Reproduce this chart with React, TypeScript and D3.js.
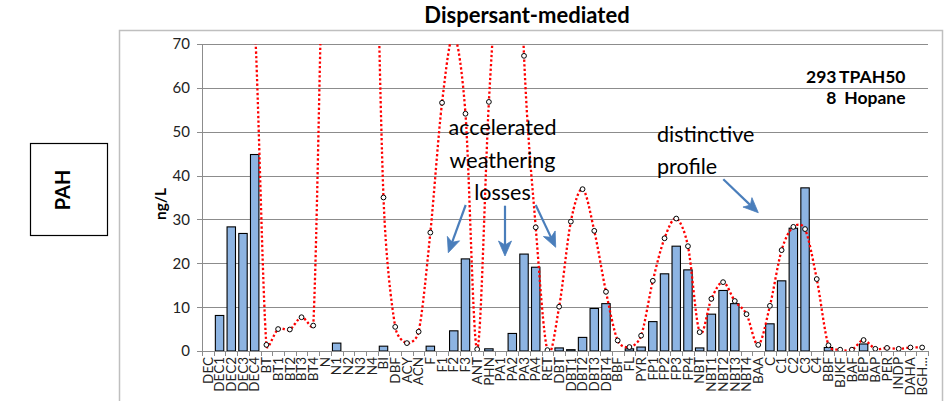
import React from "react";
import * as d3 from "d3";

const categories = [
  "DEC", "DEC1", "DEC2", "DEC3", "DEC4", "BT", "BT1", "BT2", "BT3", "BT4",
  "N", "N1", "N2", "N3", "N4", "BI", "DBF", "ACY", "ACN", "F",
  "F1", "F2", "F3", "ANT", "PHN", "PA1", "PA2", "PA3", "PA4", "RET",
  "DBT", "DBT1", "DBT2", "DBT3", "DBT4", "BBF", "FL", "PYR", "FP1", "FP2",
  "FP3", "FP4", "NBT", "NBT1", "NBT2", "NBT3", "NBT4", "BAA", "C", "C1",
  "C2", "C3", "C4", "BBF", "BJKF", "BAF", "BEP", "BAP", "PER", "INDP",
  "DAHA", "BGH...",
];

// measured sample (bars), ng/L
const measuredValues = [
  0, 8.1, 28.3, 26.8, 44.8, 0, 0, 0, 0, 0,
  0, 1.8, 0, 0, 0, 1.1, 0, 0, 0, 1.1,
  0, 4.6, 21.0, 0, 0.5, 0, 4.0, 22.1, 19.1, 0,
  0.7, 0.3, 3.1, 9.7, 10.8, 0, 0.5, 0.9, 6.7, 17.6,
  23.9, 18.5, 0.7, 8.4, 13.8, 10.8, 0, 0, 6.2, 16.0,
  28.0, 37.2, 0, 0.8, 0, 0, 1.6, 0, 0, 0,
  0, 0,
];

// source-oil profile (dotted line with markers), ng/L; values above 70 run off the axis
const profileValues = [
  90, 110, 100, 100, 75, 1.4, 5.0, 4.9, 7.7, 5.8,
  110, 130, 180, 170, 140, 35.0, 5.5, 1.8, 4.4, 27.0,
  56.6, 72, 54.1, 0.4, 56.8, 100, 150, 67.3, 28.2, 0.2,
  10.1, 29.5, 36.9, 27.4, 13.5, 2.4, 0.9, 3.5, 16.0, 25.7,
  30.2, 23.9, 4.3, 11.9, 15.7, 11.4, 8.4, 1.4, 10.3, 23.0,
  28.3, 27.8, 16.4, 1.3, 0.3, 0.3, 2.5, 0.5, 0.7, 0.5,
  0.8, 0.8,
];

const yTickValues = [0, 10, 20, 30, 40, 50, 60, 70];
const chartTitle = "Dispersant-mediated";
const yAxisTitle = "ng/L";
const sideLabel = "PAH";
const totalValues = ["293", "8"];
const totalLabels = ["TPAH50", "Hopane"];
const noteLeft = ["accelerated", "weathering", "losses"];
const noteRight = ["distinctive", "profile"];

// Excel-style smoothed line: Bezier with 1/6 tangents, arm length clamped to half the segment
class ExcelSmoothCurve {
  _context: any;
  _pts: number[][] = [];
  constructor(context: any) {
    this._context = context;
  }
  areaStart() {}
  areaEnd() {}
  lineStart() {
    this._pts = [];
  }
  point(x: number, y: number) {
    this._pts.push([+x, +y]);
  }
  lineEnd() {
    const p = this._pts;
    const c = this._context;
    if (!p.length) return;
    const dist = (a: number[], b: number[]) => Math.hypot(a[0] - b[0], a[1] - b[1]);
    c.moveTo(p[0][0], p[0][1]);
    for (let i = 0; i < p.length - 1; i++) {
      const p0 = p[i - 1] || p[i];
      const p1 = p[i];
      const p2 = p[i + 1];
      const p3 = p[i + 2] || p[i + 1];
      const d12 = dist(p1, p2);
      const d02 = dist(p0, p2);
      const d13 = dist(p1, p3);
      let f1 = 1 / 6;
      let f2 = 1 / 6;
      if (d02 > 0 && d02 * f1 > d12 / 2) f1 = d12 / (2 * d02);
      if (d13 > 0 && d13 * f2 > d12 / 2) f2 = d12 / (2 * d13);
      c.bezierCurveTo(
        p1[0] + (p2[0] - p0[0]) * f1,
        p1[1] + (p2[1] - p0[1]) * f1,
        p2[0] - (p3[0] - p1[0]) * f2,
        p2[1] - (p3[1] - p1[1]) * f2,
        p2[0],
        p2[1]
      );
    }
  }
}

const FONT = "Lato, 'Open Sans', sans-serif";
const ARROW = "#4a7ebb";

function Arrow({ x1, y1, x2, y2 }: { x1: number; y1: number; x2: number; y2: number }) {
  const len = Math.hypot(x2 - x1, y2 - y1);
  const ux = (x2 - x1) / len;
  const uy = (y2 - y1) / len;
  const headL = 15;
  const headW = 6.5;
  const bx = x2 - ux * headL;
  const by = y2 - uy * headL;
  const nx = -uy;
  const ny = ux;
  const notchX = x2 - ux * (headL - 4);
  const notchY = y2 - uy * (headL - 4);
  const head = `M${x2},${y2} L${bx + nx * headW},${by + ny * headW} L${notchX},${notchY} L${bx - nx * headW},${by - ny * headW} Z`;
  return (
    <g>
      <line x1={x1} y1={y1} x2={notchX} y2={notchY} stroke={ARROW} strokeWidth={2.2} />
      <path d={head} fill={ARROW} stroke={ARROW} strokeWidth={0.8} strokeLinejoin="miter" />
    </g>
  );
}

export default function App() {
  const W = 951;
  const H = 401;
  const left = 202;
  const right = 928;
  const top = 44;
  const bottom = 351;

  const idx = categories.map((_, i) => i);
  const x = d3
    .scaleBand<number>()
    .domain(idx)
    .range([left, right])
    .paddingInner(0.28)
    .paddingOuter(0.14);
  const y = d3.scaleLinear().domain([0, 70]).range([bottom, top]);
  const cx = (i: number) => (x(i) as number) + x.bandwidth() / 2;

  const lineGen = d3
    .line<number>()
    .x((_, i) => cx(i))
    .y((d) => y(d))
    .curve(((ctx: any) => new ExcelSmoothCurve(ctx)) as any);

  const step = x.step();
  const boundaries = d3.range(categories.length + 1).map((k) => left + k * step);

  return (
    <svg
      width={W}
      height={H}
      style={{ position: "absolute", left: 0, top: 0, background: "#fff" }}
      fontFamily={FONT}
    >
      <defs>
        <clipPath id="plotClip">
          <rect x={left} y={top} width={right - left} height={bottom - top} />
        </clipPath>
      </defs>
      <rect x={0} y={0} width={W} height={H} fill="#fff" />

      {/* title */}
      <text x={527} y={23} textAnchor="middle" fontSize={22} fontWeight="bold" fill="#000">
        {chartTitle}
      </text>

      {/* chart border */}
      <rect x={119.5} y={30.5} width={823} height={H + 10} fill="none" stroke="#bfbfbf" strokeWidth={1.5} />

      {/* side box */}
      <rect x={30.5} y={143.5} width={77} height={92} fill="#fff" stroke="#000" strokeWidth={1.2} />
      <text
        transform={`translate(${70},${190}) rotate(-90)`}
        textAnchor="middle"
        fontSize={20}
        fontWeight="bold"
        fill="#000"
      >
        {sideLabel}
      </text>

      {/* gridlines */}
      {yTickValues.map((t) => (
        <line
          key={"g" + t}
          x1={left - 5}
          x2={right}
          y1={Math.round(y(t)) + 0.5}
          y2={Math.round(y(t)) + 0.5}
          stroke="#8c8c8c"
          strokeWidth={1}
        />
      ))}
      {/* y axis line */}
      <line x1={left + 0.5} x2={left + 0.5} y1={top} y2={bottom + 0.5} stroke="#8c8c8c" strokeWidth={1} />
      {/* x tick marks */}
      {boundaries.map((bx, k) => (
        <line
          key={"t" + k}
          x1={Math.round(bx) + 0.5}
          x2={Math.round(bx) + 0.5}
          y1={bottom}
          y2={bottom + 5}
          stroke="#8c8c8c"
          strokeWidth={1}
        />
      ))}

      {/* y tick labels */}
      {yTickValues.map((t) => (
        <text key={"yl" + t} x={190} y={y(t)} dy="0.36em" textAnchor="end" fontSize={15} fill="#222">
          {t}
        </text>
      ))}
      <text
        transform={`translate(${166},${204}) rotate(-90)`}
        textAnchor="middle"
        fontSize={15.5}
        fontWeight="bold"
        fill="#000"
      >
        {yAxisTitle}
      </text>

      {/* x labels */}
      {categories.map((c, i) => (
        <text
          key={"xl" + i}
          transform={`translate(${cx(i)},${357}) rotate(-90)`}
          textAnchor="end"
          dy="0.35em"
          fontSize={13.5}
          fill="#222"
        >
          {c}
        </text>
      ))}

      {/* bars */}
      <g clipPath="url(#plotClip)">
        {measuredValues.map((v, i) =>
          v > 0 ? (
            <rect
              key={"b" + i}
              x={x(i)}
              y={y(v)}
              width={x.bandwidth()}
              height={y(0) - y(v)}
              fill="#8db4e2"
              stroke="#000"
              strokeWidth={1.1}
            />
          ) : null
        )}
      </g>

      {/* profile line + markers */}
      <g clipPath="url(#plotClip)">
        <path
          d={lineGen(profileValues) || ""}
          fill="none"
          stroke="#ff0000"
          strokeWidth={2.3}
          strokeDasharray="2.3 2.3"
        />
        {profileValues.map((v, i) =>
          v <= 70 ? (
            <circle key={"m" + i} cx={cx(i)} cy={y(v)} r={2.4} fill="#fff" stroke="#000" strokeWidth={1} />
          ) : null
        )}
      </g>

      {/* totals */}
      {totalValues.map((v, k) => (
        <g key={"tot" + k}>
          <text x={836.5} y={83 + k * 21} textAnchor="end" fontSize={17.5} fontWeight="bold" fill="#000">
            {v}
          </text>
          <text x={905.5} y={83 + k * 21} textAnchor="end" fontSize={17.5} fontWeight="bold" fill="#000">
            {totalLabels[k]}
          </text>
        </g>
      ))}

      {/* annotations */}
      {noteLeft.map((s, k) => (
        <text key={"nl" + k} x={502.5} y={135 + k * 32.5} textAnchor="middle" fontSize={21.5} fill="#000">
          {s}
        </text>
      ))}
      {noteRight.map((s, k) => (
        <text key={"nr" + k} x={657} y={142 + k * 31.5} textAnchor="start" fontSize={21.5} fill="#000">
          {s}
        </text>
      ))}

      <Arrow x1={465.7} y1={205} x2={448.3} y2={252.7} />
      <Arrow x1={505} y1={205.7} x2={505} y2={256} />
      <Arrow x1={535.7} y1={205} x2={555.7} y2={247.3} />
      <Arrow x1={723.3} y1={179.3} x2={758.3} y2={212.7} />
    </svg>
  );
}
